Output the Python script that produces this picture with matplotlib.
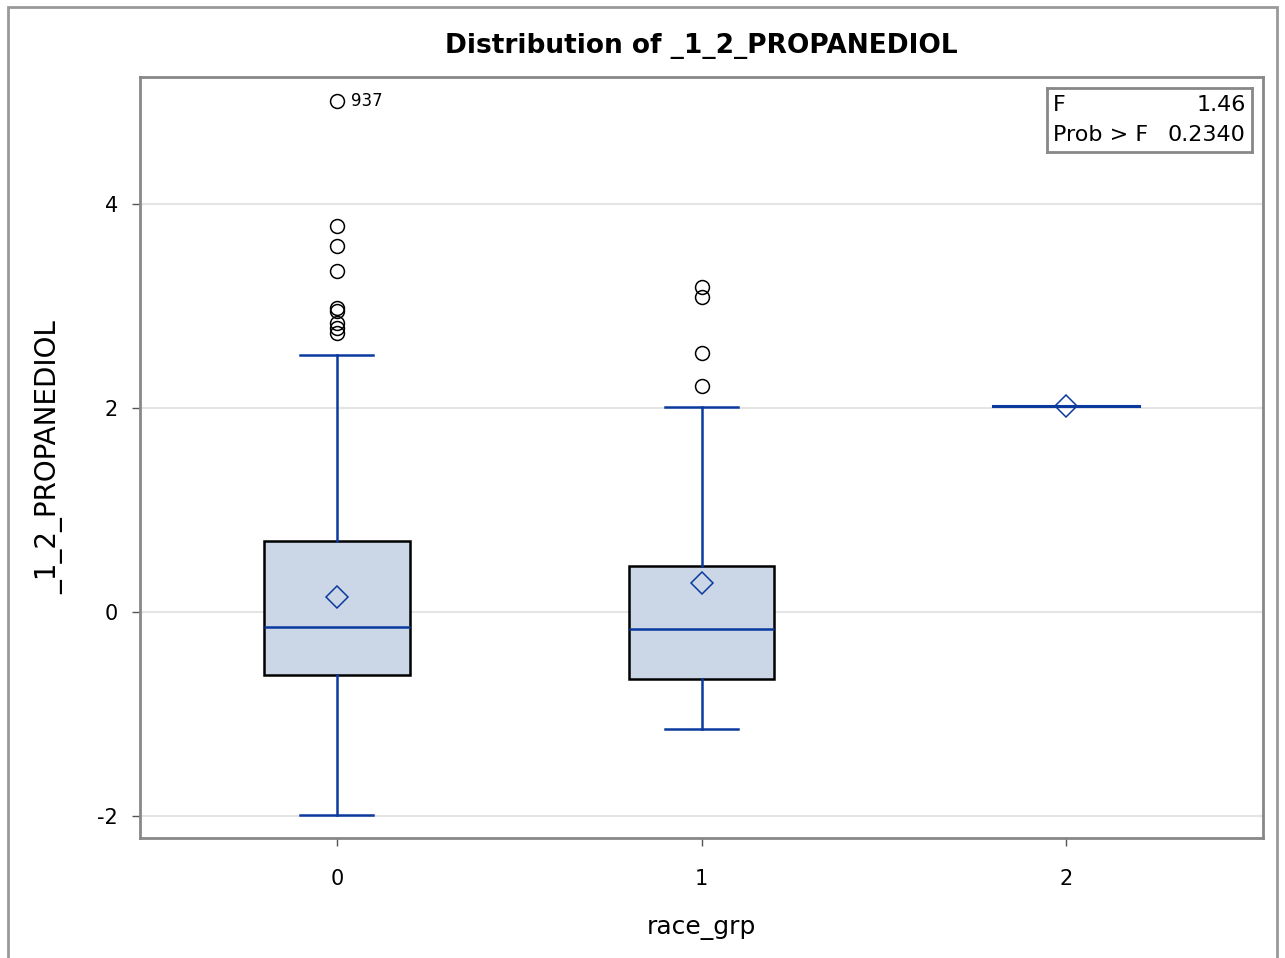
import matplotlib
matplotlib.use("Agg")
import matplotlib.pyplot as plt
from matplotlib.patches import Rectangle

# groups and box statistics
groups = [0, 1, 2]
q1 = [-0.62, -0.66, 2.02]
med = [-0.15, -0.17, 2.02]
q3 = [0.70, 0.45, 2.02]
whislo = [-1.99, -1.15, 2.02]
whishi = [2.52, 2.01, 2.02]
means = [0.15, 0.28, 2.02]
outliers = [
    [5.01, 3.78, 3.59, 3.34, 2.98, 2.95, 2.83, 2.78, 2.74],
    [3.19, 3.09, 2.54, 2.22],
    [],
]
f_value = "1.46"
p_value = "0.2340"

plt.rcParams['font.family'] = ['DejaVu Sans']

fig = plt.figure(figsize=(12.85, 9.58), dpi=100)
ax = fig.add_axes([140 / 1285, 1 - 838 / 958, (1263 - 140) / 1285, (838 - 77) / 958])

blue = '#0a3a9e'
fill = '#cbd6e6'

stats = []
for i in range(len(groups)):
    stats.append(dict(q1=q1[i], med=med[i], q3=q3[i], whislo=whislo[i],
                      whishi=whishi[i], mean=means[i], fliers=[]))

# group 2 is a single value: just draw a line, no box
ax.bxp(stats[:2], positions=groups[:2], widths=0.4, showmeans=True,
       showfliers=False, patch_artist=True,
       boxprops=dict(facecolor=fill, edgecolor='black', linewidth=1.8),
       medianprops=dict(color=blue, linewidth=1.8),
       whiskerprops=dict(color=blue, linewidth=1.8),
       capprops=dict(color=blue, linewidth=1.8),
       capwidths=0.2,
       meanprops=dict(marker='D', markerfacecolor='none',
                      markeredgecolor=blue, markersize=11, markeredgewidth=1.1),
       zorder=3)
ax.plot([groups[2] - 0.2, groups[2] + 0.2], [med[2], med[2]], color=blue,
        linewidth=2.2, zorder=3)
ax.plot([groups[2]], [means[2]], marker='D', markerfacecolor='none',
        markeredgecolor=blue, markersize=11, markeredgewidth=1.1, zorder=4)

for g, vals in zip(groups, outliers):
    ax.plot([g] * len(vals), vals, 'o', markerfacecolor='none',
            markeredgecolor='black', markersize=10, markeredgewidth=1.1,
            zorder=4)
ax.annotate('937', (groups[0], outliers[0][0]), xytext=(10, 0),
            textcoords='offset points', va='center', fontsize=12)

ax.set_xlim(-0.54, 2.54)
ax.set_ylim(-2.216, 5.245)
ax.set_xticks(groups)
ax.set_xticklabels([str(g) for g in groups])
ax.set_yticks([-2, 0, 2, 4])
ax.set_yticklabels(['-2', '0', '2', '4'])
ax.tick_params(labelsize=15, length=6, width=1, color='#555555')
ax.tick_params(axis='x', pad=16)
ax.tick_params(axis='y', pad=10)
ax.grid(axis='y', color='#e4e4e4', linewidth=1.5, zorder=0)
ax.set_axisbelow(True)
for s in ax.spines.values():
    s.set_color('#888888')
    s.set_linewidth(2)

ax.set_xlabel('race_grp', fontsize=18, labelpad=20)
ax.set_ylabel('_1_2_PROPANEDIOL', fontsize=20, labelpad=24)
ax.set_title('Distribution of _1_2_PROPANEDIOL', fontsize=19,
             fontweight='bold', pad=17)

# F test inset
inset = ax.inset_axes([(1047 - 140) / 1123, 1 - (152 - 77) / 761,
                       (1252 - 1047) / 1123, (152 - 88) / 761])
inset.set_xticks([])
inset.set_yticks([])
for s in inset.spines.values():
    s.set_color('#888888')
    s.set_linewidth(2)
inset.text(0.03, 0.74, 'F', fontsize=16, va='center', transform=inset.transAxes)
inset.text(0.97, 0.74, f_value, fontsize=16, va='center', ha='right',
           transform=inset.transAxes)
inset.text(0.03, 0.27, 'Prob > F', fontsize=16, va='center',
           transform=inset.transAxes)
inset.text(0.97, 0.27, p_value, fontsize=16, va='center', ha='right',
           transform=inset.transAxes)

# outer frame
fig.patches.append(Rectangle((8 / 1285, -0.01), (1277 - 8) / 1285, 1 - 7 / 958 + 0.01,
                             transform=fig.transFigure, fill=False,
                             edgecolor='#999999', linewidth=2))

fig.savefig('out.png', dpi=100)
